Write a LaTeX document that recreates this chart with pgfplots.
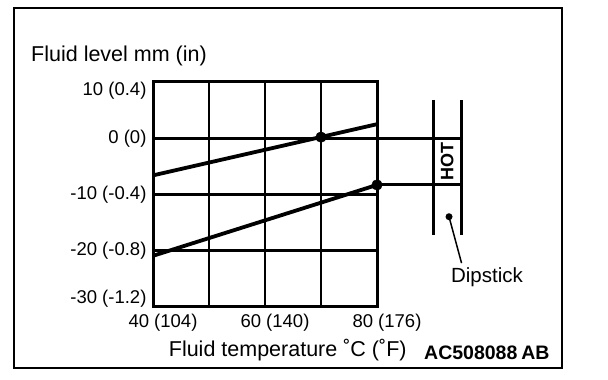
\documentclass[border=0pt]{standalone}
\usepackage{fontspec}
\setmainfont{Liberation Sans}
\usepackage{pgfplots}
\pgfplotsset{compat=1.18}
\begin{document}
\begin{tikzpicture}
\path[use as bounding box] (0,0) rectangle (608pt,380pt);
\draw[line width=2.4pt] (14pt,12pt) rectangle (562pt,372pt);
\begin{axis}[
  at={(153pt,73pt)}, anchor=south west,
  scale only axis, width=224pt, height=225pt,
  xmin=40, xmax=80, ymin=-30, ymax=10,
  clip=false,
  axis line style={line width=3pt},
  grid=major, grid style={line width=2.6pt, black},
  major tick length=0pt,
  xtick={40,50,60,70,80},
  xticklabels={40 (104),,60 (140),,80 (176)},
  x tick label style={font=\fontsize{18.5pt}{20pt}\selectfont, anchor=north, xshift=10pt, yshift=-3.5pt},
  ytick={-30,-20,-10,0,10},
  yticklabels={,,,,},
  extra y ticks={8.5,0,-10,-20,-28.5},
  extra y tick labels={10 (0.4),0 (0),-10 (-0.4),-20 (-0.8),-30 (-1.2)},
  extra y tick style={grid=none},
  y tick label style={font=\fontsize{18.5pt}{20pt}\selectfont, anchor=east, xshift=-3pt},
  xlabel={Fluid temperature ˚C (˚F)},
  every axis x label/.style={at={(rel axis cs:0.07,-0.218)}, anchor=base west, inner sep=0pt, font=\fontsize{21.5pt}{24pt}\selectfont},
  ylabel={Fluid level mm (in)},
  every axis y label/.style={at={(rel axis cs:-0.5446,1.0902)}, anchor=base west, inner sep=0pt, font=\fontsize{21.5pt}{24pt}\selectfont},
]
% fluid level lines
\addplot[black, line width=3.8pt] coordinates {(40,-6.6) (80,2.5)};
\addplot[black, line width=3.8pt] coordinates {(40,-20.9) (80,-8.3)};
% extensions to the dipstick
\addplot[black, line width=3pt] coordinates {(80,0) (95.1,0)};
\addplot[black, line width=3pt] coordinates {(80,-8.3) (95.1,-8.3)};
% marked points
\addplot[black, only marks, mark=*, mark size=5.3pt] coordinates {(70,0.2) (80,-8.3)};
% dipstick
\draw[line width=3pt] (axis cs:90,6.8) -- (axis cs:90,-17.2);
\draw[line width=3pt] (axis cs:95.1,6.8) -- (axis cs:95.1,-17.2);
\node[rotate=90, font=\bfseries\fontsize{18pt}{20pt}\selectfont, inner sep=0pt] at (axis cs:92.55,-4.17) {HOT};
\fill (axis cs:92.86,-13.95) circle (3.5pt);
\draw[line width=1.5pt] (axis cs:92.86,-13.95) -- (axis cs:95.1,-22.2);
\node[anchor=base west, inner sep=0pt, font=\fontsize{20.5pt}{22pt}\selectfont] at (axis cs:93.2,-25.56) {Dipstick};
\end{axis}
\node[anchor=base west, inner sep=0pt, font=\bfseries\fontsize{19.5pt}{21pt}\selectfont] at (424pt,20pt) {AC508088\kern4pt AB};
\end{tikzpicture}
\end{document}
